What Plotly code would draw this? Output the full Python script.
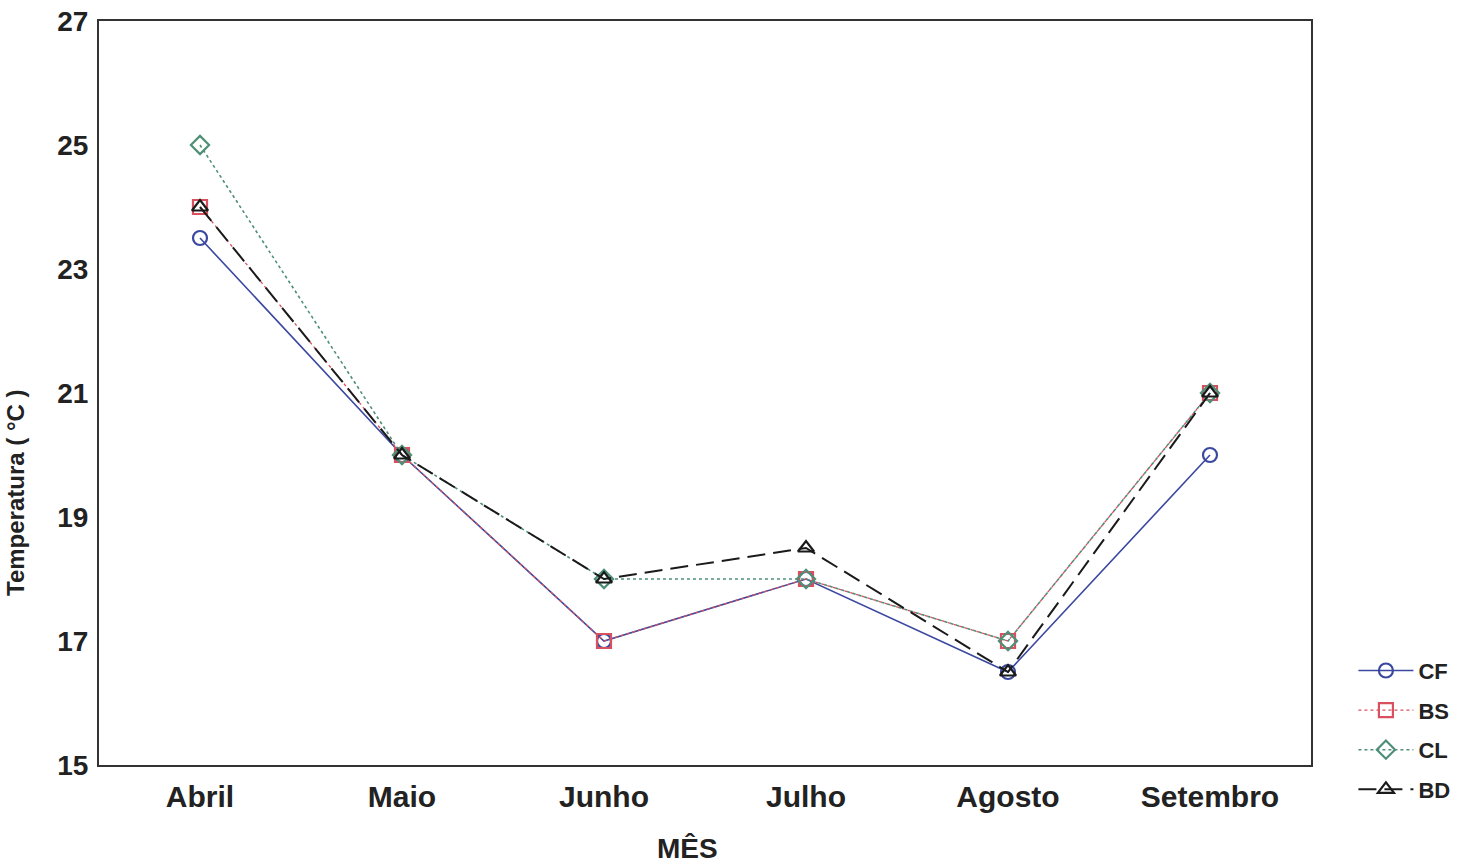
import plotly.graph_objects as go

months = ["Abril", "Maio", "Junho", "Julho", "Agosto", "Setembro"]
cf = [23.5, 20, 17, 18, 16.5, 20]
bs = [24, 20, 17, 18, 17, 21]
cl = [25, 20, 18, 18, 17, 21]
bd = [24, 20, 18, 18.5, 16.5, 21]
y_ticks = [15, 17, 19, 21, 23, 25, 27]

series = [
    ("CF", cf, "#3b48a0", "solid", "circle-open", 1.6),
    ("BS", bs, "#d9505e", "dot", "square-open", 1.3),
    ("CL", cl, "#4f8f78", "dot", "diamond-open", 1.6),
    ("BD", bd, "#1a1a1a", "18px,8px", "triangle-up-open", 2.0),
]

fig = go.Figure()
for name, vals, color, dash, sym, w in series:
    fig.add_trace(go.Scatter(
        x=months, y=vals, name=name, mode="lines+markers",
        line=dict(color=color, width=w, dash=dash),
        marker=dict(symbol=sym, size=14, color=color, line=dict(width=2.2, color=color)),
        legendgroup=name,
    ))

ff = "Liberation Sans, Arial, sans-serif"
fig.update_layout(
    width=1475, height=867,
    margin=dict(l=99, r=164, t=21, b=102),
    paper_bgcolor="white", plot_bgcolor="white",
    font=dict(family=ff, color="#222"),
    xaxis=dict(
        type="category", range=[-0.5, 5.5], automargin=False,
        showline=True, linecolor="#333", linewidth=2, mirror=True,
        showgrid=False, zeroline=False, ticks="",
        tickfont=dict(size=30, family=ff, color="#222", weight="bold"),
        ticklabelstandoff=4,
    ),
    yaxis=dict(
        range=[15, 27], tickvals=y_ticks, automargin=False,
        showline=True, linecolor="#333", linewidth=2, mirror=True,
        showgrid=False, zeroline=False, ticks="",
        tickfont=dict(size=28, family=ff, color="#222", weight="bold"),
        ticklabelstandoff=3,
    ),
    legend=dict(
        x=1.035, y=0.155, xanchor="left", yanchor="top",
        font=dict(size=22, color="#222", family=ff, weight="bold"),
        tracegroupgap=8, bgcolor="rgba(0,0,0,0)", itemwidth=55,
    ),
    showlegend=True,
)

fig.add_annotation(
    text="<b>MÊS</b>", xref="paper", yref="paper",
    x=(687 - 99) / 1212, y=0, yshift=-83,
    xanchor="center", yanchor="middle", showarrow=False,
    font=dict(size=28, color="#222", family=ff),
)

fig.add_annotation(
    text="<b>Temperatura ( °C )</b>", textangle=-90,
    xref="paper", yref="paper", x=0, y=(765 - 493) / 744, xshift=-84,
    xanchor="center", yanchor="middle", showarrow=False,
    font=dict(size=24, color="#222", family=ff),
)

fig.write_html("out.html")
